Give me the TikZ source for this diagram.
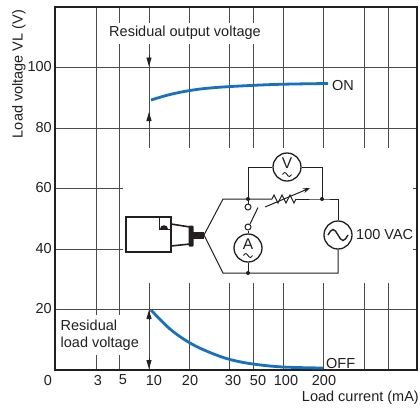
\documentclass[tikz,border=0pt]{standalone}
\usepackage{fontspec}
\setmainfont{Liberation Sans}
\usetikzlibrary{arrows.meta}
\definecolor{curveblue}{RGB}{22,114,190}
\definecolor{gridgray}{RGB}{75,75,75}
\definecolor{ink}{RGB}{35,31,32}
\begin{document}
\begin{tikzpicture}[x=1pt,y=-1pt,
  font=\fontsize{14.5}{17}\selectfont, text=ink,
  grid/.style={draw=gridgray, line width=0.9pt},
  frame/.style={draw=ink, line width=1.3pt},
  curve/.style={draw=curveblue, line width=2.8pt},
  lbl/.style={inner sep=0.5pt},
  tick/.style={inner sep=0pt},
  arr/.style={draw=ink, line width=0.9pt, -{Triangle[length=9pt,width=5pt]}},
  wire/.style={draw=ink, line width=1pt},
  meter/.style={circle, draw=ink, line width=1.3pt, minimum size=28pt, inner sep=0pt},
  contact/.style={circle, draw=ink, line width=1pt, fill=white, minimum size=6pt, inner sep=0pt},
  meterfont/.style={font=\fontsize{15.5}{16}\selectfont, inner sep=0pt}
]
\useasboundingbox (0,0) rectangle (420,408);
\fill[white] (0,0) rectangle (420,408);
% grid
\foreach \yy in {67,128,188,249,309} \draw[grid] (55,\yy) -- (417,\yy);
\foreach \xx in {96,119,149,189,229,253,283,323,364,388} \draw[grid] (\xx,7) -- (\xx,370);
\fill[white] (123,148) rectangle (413,283);
\draw[frame] (55,7) rectangle (417,370);
% text boxes
\node[lbl, fill=white, minimum height=21pt, minimum width=164pt] (rov) at (185,33) {Residual output voltage};
\node[lbl, fill=white, align=left, anchor=west, minimum height=40pt] (rlv) at (60,335) {Residual\\load voltage};
% y ticks
\node[tick, anchor=east] (y100) at (52,67) {100};
\node[tick, anchor=east] (y80) at (52,128) {80};
\node[tick, anchor=east] (y60) at (52,188) {60};
\node[tick, anchor=east] (y40) at (52,249) {40};
\node[tick, anchor=east] (y20) at (52,309) {20};
\node[tick] (x0) at (48,380) {0};
% x ticks
\node[tick] (x3) at (98,380) {3};
\node[tick] (x5) at (123,380) {5};
\node[tick] (x10) at (154,380) {10};
\node[tick] (x20) at (190,380) {20};
\node[tick] (x30) at (233,380) {30};
\node[tick] (x50) at (258,380) {50};
\node[tick] (x100) at (286,380) {100};
\node[tick] (x200) at (324,380) {200};
\node[tick, rotate=90] (ylab) at (19,74) {Load voltage VL (V)};
\node[tick, anchor=east] (xlab) at (419,398) {Load current (mA)};
% curves
\draw[curve] plot[smooth, tension=0.6] coordinates {(151,100) (170,94.5) (190,90.5) (210,88) (240,86) (280,84.3) (328,83.5)};
\draw[curve] plot[smooth, tension=0.6] coordinates {(151,310) (170,329) (190,343) (210,352.5) (230,359.5) (253,364) (283,367) (323,368)};
\node[tick, anchor=west] (on) at (332,86) {ON};
\node[lbl, fill=white, anchor=west] (off) at (325.5,363) {OFF};
% residual arrows
\coordinate (a1s) at (149,55); \coordinate (a1e) at (149,66.5);
\coordinate (a2s) at (149,123); \coordinate (a2e) at (149,112);
\coordinate (a3s) at (149,320); \coordinate (a3e) at (149,310);
\coordinate (a4s) at (149,358); \coordinate (a4e) at (149,369);
\draw[arr] (a1s) -- (a1e);
\draw[arr] (a2s) -- (a2e);
\draw[arr] (a3s) -- (a3e);
\draw[arr] (a4s) -- (a4e);
% sensor
\draw[draw=ink, line width=2pt] (126,217) rectangle (171,252);
\draw[draw=ink, line width=1pt] (159,217) rectangle (171,229);
\fill[ink] (159.5,229) .. controls (159.5,223.5) and (168,223.5) .. (168,229) -- cycle;
\draw[draw=ink, line width=1.6pt] (171,224) -- (190,227);
\draw[draw=ink, line width=1.6pt] (171,246) -- (190,244);
\fill[ink, rounded corners=1pt] (188.5,225.5) rectangle (193.5,246.5);
\fill[ink] (193,232) rectangle (204,238.5);
% circuit coordinates
\coordinate (tip) at (204,235);
\coordinate (tl) at (223,199);
\coordinate (bl) at (223,273);
\coordinate (j1) at (248,199);
\coordinate (j2) at (322,199);
\coordinate (tr) at (338,199);
\coordinate (br) at (338,273);
\coordinate (j3) at (248,273);
\coordinate (r1) at (272,199);
\coordinate (r2) at (296,199);
\coordinate (v1) at (248,167);
\coordinate (v2) at (322,167);
\node[meter] (V) at (287,167) {};
\node[meter] (A) at (248,248) {};
\node[meter] (AC) at (338,235) {};
\node[contact] (s1) at (248,207) {};
\node[contact] (s2) at (248,227) {};
% wires
\draw[wire] (tip) -- (tl) -- (j1) -- (r1);
\draw[wire] (r1) -- (274,195) -- (278,203) -- (282,195) -- (286,203) -- (290,195) -- (294,203) -- (r2);
\draw[wire] (r2) -- (j2) -- (tr) -- (AC.north);
\draw[wire] (AC.south) -- (br) -- (j3) -- (bl) -- (tip);
\draw[wire] (j1) -- (v1) -- (V.west);
\draw[wire] (V.east) -- (v2) -- (j2);
\draw[wire] (j1) -- (s1.north);
\draw[wire] (s2.south) -- (A.north);
\draw[wire] (A.south) -- (j3);
\draw[wire] (250,224) -- (258,207.5);
\draw[draw=ink, line width=1pt, -{Stealth[length=7pt,width=5pt]}] (265,207) -- (310,188);
\fill[ink] (j1) circle (2pt);
\fill[ink] (j2) circle (2pt);
\fill[ink] (j3) circle (2pt);
% meter symbols
\node[meterfont] (Vt) at (287,163.5) {V};
\node[meterfont] (At) at (248,244.5) {A};
\draw[draw=ink, line width=0.9pt] (282.5,174.5) sin (284.75,172.5) cos (287,174.5) sin (289.25,176.5) cos (291.5,174.5);
\draw[draw=ink, line width=0.9pt] (243.5,255.5) sin (245.75,253.5) cos (248,255.5) sin (250.25,257.5) cos (252.5,255.5);
\draw[draw=ink, line width=1.4pt] (328,235) sin (333,229.5) cos (338,235) sin (343,240.5) cos (348,235);
\node[tick, anchor=west] (vac) at (356,235) {100 VAC};
\end{tikzpicture}
\end{document}
